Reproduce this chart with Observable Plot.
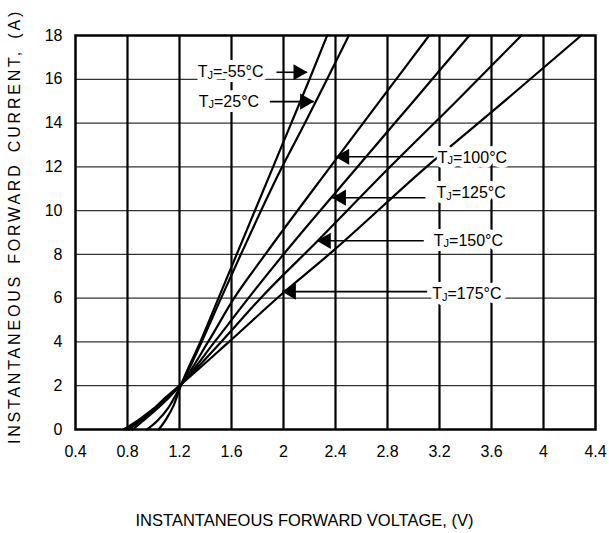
<!DOCTYPE html>
<html>
<head>
<meta charset="utf-8">
<script src="https://cdn.jsdelivr.net/npm/d3@7"></script>
<script src="https://cdn.jsdelivr.net/npm/@observablehq/plot@0.6"></script>
<style>
  html, body { margin: 0; padding: 0; background: #fff; }
  #chart { width: 609px; height: 533px; }
</style>
</head>
<body>
<div id="chart"></div>
<script>
// ---- Data ----
const xTicks = [0.4, 0.8, 1.2, 1.6, 2, 2.4, 2.8, 3.2, 3.6, 4, 4.4];
const yTicks = [0, 2, 4, 6, 8, 10, 12, 14, 16, 18];

const seriesNames = ["-55", "25", "100", "125", "150", "175"];

const vM55 = [1.04, 1.1, 1.155, 1.21, 1.36, 1.5, 1.92, 2.06, 2.2, 2.336];
const iM55 = [0, 0.5, 1.1, 2.0, 4.0, 6.0, 12, 14, 16, 18];

const v25 = [0.95, 1.03, 1.115, 1.21, 1.37, 1.52, 1.99, 2.165, 2.335, 2.503];
const i25 = [0, 0.4, 1.0, 2.0, 4.0, 6.0, 12, 14, 16, 18];

const v100 = [0.84, 0.92, 1.0, 1.1, 1.21, 1.42, 1.62, 1.86, 2.36, 2.74, 3.12];
const i100 = [0, 0.4, 0.8, 1.35, 2.05, 4, 6, 8, 12, 15, 18];

const v125 = [0.81, 0.9, 1.0, 1.1, 1.21, 1.47, 1.73, 2.0, 2.57, 3.0, 3.43];
const i125 = [0, 0.4, 0.85, 1.4, 2.05, 4, 6, 8, 12, 15, 18];

const v150 = [0.79, 0.9, 1.0, 1.1, 1.21, 1.52, 1.84, 2.26, 2.82, 3.33, 3.83];
const i150 = [0, 0.45, 0.9, 1.45, 2.05, 4, 6.1, 8.6, 12, 15, 18];

const v175 = [0.77, 0.9, 1.0, 1.1, 1.21, 1.58, 1.99, 2.35, 3.1, 3.7, 4.29];
const i175 = [0, 0.5, 0.95, 1.5, 2.05, 4, 6.2, 8, 12, 15, 18];

// annotation labels
const labelTemps = ["-55", "25", "100", "125", "150", "175"];
const labelV = [1.341, 1.348, 3.187, 3.177, 3.156, 3.144];
const labelI = [16.32, 14.98, 12.43, 10.79, 8.62, 6.18];
const arrowFromV = [1.946, 1.895, 3.156, 3.092, 3.079, 3.105];
const arrowToV = [2.182, 2.233, 2.40, 2.375, 2.259, 1.99];
const arrowI = [16.32, 14.98, 12.46, 10.59, 8.62, 6.3];

const xTitle = "INSTANTANEOUS FORWARD VOLTAGE, (V)";
const yTitle = "INSTANTANEOUS FORWARD CURRENT, (A)";

// ---- Build tables ----
const vs = [vM55, v25, v100, v125, v150, v175];
const is = [iM55, i25, i100, i125, i150, i175];
const curves = seriesNames.flatMap((name, k) =>
  vs[k].map((v, j) => ({series: name, v, i: is[k][j]})));

const ann = labelTemps.map((t, k) => ({
  text: "TJ=" + t + "°C",
  lv: labelV[k], li: labelI[k],
  a1: arrowFromV[k], a2: arrowToV[k], ai: arrowI[k],
  right: arrowToV[k] > arrowFromV[k]
}));
const annRight = ann.filter(d => d.right);
const annLeft = ann.filter(d => !d.right);

const FONT = "'Liberation Sans', Arial, Helvetica, sans-serif";

const svg = Plot.plot({
  width: 609,
  height: 533,
  marginLeft: 75,
  marginRight: 14,
  marginTop: 35,
  marginBottom: 104,
  style: {fontFamily: FONT, fontSize: "16px", background: "#fff", color: "#000"},
  x: {domain: [0.4, 4.4], label: null},
  y: {domain: [0, 18], label: null},
  marks: [
    Plot.ruleY(yTicks.slice(1, -1), {stroke: "#333", strokeWidth: 1.3}),
    Plot.ruleX(xTicks.slice(1, -1), {stroke: "#000", strokeWidth: 2.2}),
    Plot.line(curves, {x: "v", y: "i", z: "series", stroke: "#000", strokeWidth: 2.2, curve: "monotone-x"}),
    Plot.link(ann, {x1: "a1", x2: "a2", y1: "ai", y2: "ai", stroke: "#000", strokeWidth: 1.6}),
    Plot.dot(annRight, {x: "a2", y: "ai", symbol: "triangle", r: 6, fill: "#000", stroke: "none", rotate: 90, dx: -9}),
    Plot.dot(annLeft, {x: "a2", y: "ai", symbol: "triangle", r: 6, fill: "#000", stroke: "none", rotate: -90, dx: 9}),
    // white halo layer behind the labels (hides the grid like the label boxes)
    Plot.text(ann, {x: "lv", y: "li", text: "text", textAnchor: "start", fontSize: 16,
      fill: "#fff", stroke: "#fff", strokeWidth: 10}),
    Plot.text(ann, {x: "lv", y: "li", text: "text", textAnchor: "start", fontSize: 16, fill: "#000"}),
    Plot.frame({stroke: "#000", strokeWidth: 2.5}),
    Plot.axisX(xTicks, {tickSize: 0, tickPadding: 16, fontSize: 16, label: null, tickFormat: d => String(d)}),
    Plot.axisY(yTicks, {tickSize: 0, tickPadding: 13, fontSize: 16, label: null, tickFormat: d => String(d)}),
    Plot.text([xTitle], {text: d => d, frameAnchor: "bottom", textAnchor: "middle", lineAnchor: "middle",
      dy: 91, dx: -31, fontSize: 16.5}),
    Plot.text([yTitle], {text: d => d, frameAnchor: "left", textAnchor: "middle", lineAnchor: "middle",
      rotate: -90, dx: -61, dy: -6, fontSize: 16})
  ]
});

// subscript J in the T_J labels, letter spacing for the y title
d3.select(svg).selectAll("text").each(function () {
  const t = this.textContent;
  const s = d3.select(this);
  if (t.startsWith("TJ=")) {
    const rest = t.slice(2);
    s.text(null);
    s.append("tspan").text("T");
    s.append("tspan").attr("font-size", "11px").attr("dy", "1.5").text("J");
    s.append("tspan").attr("dy", "-1.5").text(rest);
  } else if (t === yTitle) {
    s.style("letter-spacing", "2.8px").style("word-spacing", "3px");
  }
});

document.getElementById("chart").appendChild(svg);
</script>
</body>
</html>
